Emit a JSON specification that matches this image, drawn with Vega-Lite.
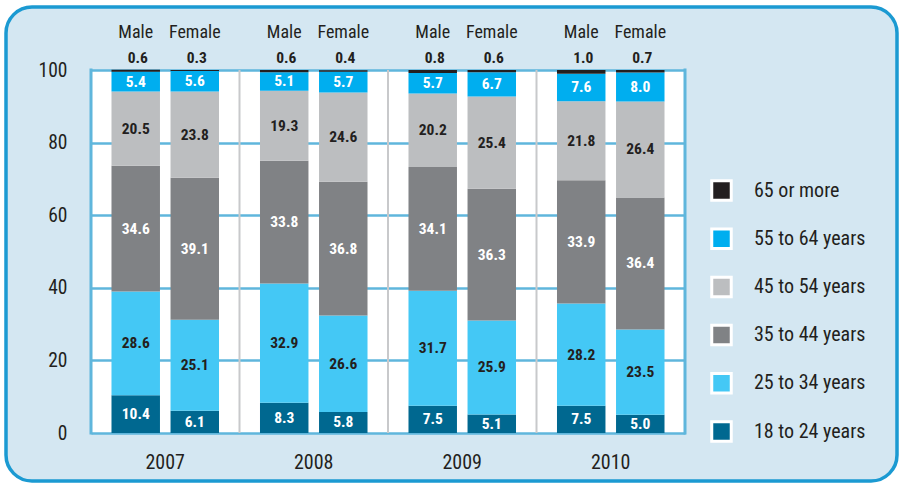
{
  "$schema": "https://vega.github.io/schema/vega-lite/v6.json",
  "width": 891,
  "height": 474,
  "autosize": {"type": "none"},
  "padding": {"left": 6, "top": 7, "right": 2, "bottom": 3},
  "background": "white",
  "config": {
    "font": "'Roboto Condensed', 'Liberation Sans Narrow', Roboto, sans-serif",
    "view": {"fill": "#d4e7f2", "stroke": "#1b9ad2", "strokeWidth": 3.5, "cornerRadius": 26}
  },
  "data": {
    "values": [
      {"year": "2007", "sex": "Male", "age": "18 to 24 years", "value": 10.4},
      {"year": "2007", "sex": "Male", "age": "25 to 34 years", "value": 28.6},
      {"year": "2007", "sex": "Male", "age": "35 to 44 years", "value": 34.6},
      {"year": "2007", "sex": "Male", "age": "45 to 54 years", "value": 20.5},
      {"year": "2007", "sex": "Male", "age": "55 to 64 years", "value": 5.4},
      {"year": "2007", "sex": "Male", "age": "65 or more", "value": 0.6},
      {"year": "2007", "sex": "Female", "age": "18 to 24 years", "value": 6.1},
      {"year": "2007", "sex": "Female", "age": "25 to 34 years", "value": 25.1},
      {"year": "2007", "sex": "Female", "age": "35 to 44 years", "value": 39.1},
      {"year": "2007", "sex": "Female", "age": "45 to 54 years", "value": 23.8},
      {"year": "2007", "sex": "Female", "age": "55 to 64 years", "value": 5.6},
      {"year": "2007", "sex": "Female", "age": "65 or more", "value": 0.3},
      {"year": "2008", "sex": "Male", "age": "18 to 24 years", "value": 8.3},
      {"year": "2008", "sex": "Male", "age": "25 to 34 years", "value": 32.9},
      {"year": "2008", "sex": "Male", "age": "35 to 44 years", "value": 33.8},
      {"year": "2008", "sex": "Male", "age": "45 to 54 years", "value": 19.3},
      {"year": "2008", "sex": "Male", "age": "55 to 64 years", "value": 5.1},
      {"year": "2008", "sex": "Male", "age": "65 or more", "value": 0.6},
      {"year": "2008", "sex": "Female", "age": "18 to 24 years", "value": 5.8},
      {"year": "2008", "sex": "Female", "age": "25 to 34 years", "value": 26.6},
      {"year": "2008", "sex": "Female", "age": "35 to 44 years", "value": 36.8},
      {"year": "2008", "sex": "Female", "age": "45 to 54 years", "value": 24.6},
      {"year": "2008", "sex": "Female", "age": "55 to 64 years", "value": 5.7},
      {"year": "2008", "sex": "Female", "age": "65 or more", "value": 0.4},
      {"year": "2009", "sex": "Male", "age": "18 to 24 years", "value": 7.5},
      {"year": "2009", "sex": "Male", "age": "25 to 34 years", "value": 31.7},
      {"year": "2009", "sex": "Male", "age": "35 to 44 years", "value": 34.1},
      {"year": "2009", "sex": "Male", "age": "45 to 54 years", "value": 20.2},
      {"year": "2009", "sex": "Male", "age": "55 to 64 years", "value": 5.7},
      {"year": "2009", "sex": "Male", "age": "65 or more", "value": 0.8},
      {"year": "2009", "sex": "Female", "age": "18 to 24 years", "value": 5.1},
      {"year": "2009", "sex": "Female", "age": "25 to 34 years", "value": 25.9},
      {"year": "2009", "sex": "Female", "age": "35 to 44 years", "value": 36.3},
      {"year": "2009", "sex": "Female", "age": "45 to 54 years", "value": 25.4},
      {"year": "2009", "sex": "Female", "age": "55 to 64 years", "value": 6.7},
      {"year": "2009", "sex": "Female", "age": "65 or more", "value": 0.6},
      {"year": "2010", "sex": "Male", "age": "18 to 24 years", "value": 7.5},
      {"year": "2010", "sex": "Male", "age": "25 to 34 years", "value": 28.2},
      {"year": "2010", "sex": "Male", "age": "35 to 44 years", "value": 33.9},
      {"year": "2010", "sex": "Male", "age": "45 to 54 years", "value": 21.8},
      {"year": "2010", "sex": "Male", "age": "55 to 64 years", "value": 7.6},
      {"year": "2010", "sex": "Male", "age": "65 or more", "value": 1.0},
      {"year": "2010", "sex": "Female", "age": "18 to 24 years", "value": 5.0},
      {"year": "2010", "sex": "Female", "age": "25 to 34 years", "value": 23.5},
      {"year": "2010", "sex": "Female", "age": "35 to 44 years", "value": 36.4},
      {"year": "2010", "sex": "Female", "age": "45 to 54 years", "value": 26.4},
      {"year": "2010", "sex": "Female", "age": "55 to 64 years", "value": 8.0},
      {"year": "2010", "sex": "Female", "age": "65 or more", "value": 0.7}
    ]
  },
  "transform": [
    {"stack": "value", "groupby": ["year", "sex"], "sort": [{"field": "age", "order": "ascending"}], "as": ["v0", "v1"]},
    {"calculate": "(datum.v0 + datum.v1) / 2", "as": "mid"}
  ],
  "layer": [
    {
      "mark": {"type": "bar"},
      "encoding": {
        "x": {
          "field": "year", "type": "nominal", "title": null,
          "scale": {"range": [85, 679], "paddingInner": 0, "paddingOuter": 0},
          "axis": {"orient": "top", "title": null, "labels": false, "ticks": false, "domain": false, "grid": true, "gridColor": "white", "gridWidth": 148.5, "gridOpacity": 1, "bandPosition": 0.5}
        },
        "xOffset": {
          "field": "sex", "type": "nominal",
          "scale": {"domain": ["Male", "Female"], "paddingInner": 0.179, "paddingOuter": 0.347}
        },
        "y": {
          "field": "v1", "type": "quantitative", "title": null,
          "scale": {"domain": [0, 100], "range": [426, 63], "nice": false, "zero": true},
          "axis": {"orient": "left", "offset": -85, "title": null, "values": [0, 20, 40, 60, 80, 100], "domain": false, "ticks": false, "labelPadding": 24, "labelFontSize": 19.5, "labelColor": "#231f20", "grid": true, "gridColor": "#5fb6dc", "gridWidth": 2.5, "gridOpacity": 1}
        },
        "y2": {"field": "v0"},
        "color": {
          "field": "age", "type": "nominal",
          "scale": {
            "domain": ["65 or more", "55 to 64 years", "45 to 54 years", "35 to 44 years", "25 to 34 years", "18 to 24 years"],
            "range": ["#231f20", "#00aeef", "#bcbec0", "#808285", "#44c8f5", "#006890"]
          },
          "legend": {
            "orient": "none", "legendX": 704, "legendY": 172, "title": null, "padding": 0,
            "symbolType": "square", "symbolSize": 380, "symbolStrokeColor": "white", "symbolStrokeWidth": 3, "symbolOpacity": 1,
            "labelFontSize": 20, "labelColor": "#231f20",
            "labelOffset": 21, "rowPadding": 15.2
          }
        }
      }
    },
    {
      "transform": [{"filter": "datum.age == '65 or more' && datum.sex == 'Male' && datum.year != '2007'"}],
      "mark": {"type": "rule", "color": "#c8c9cb", "strokeWidth": 2},
      "encoding": {
        "x": {"field": "year", "type": "nominal", "title": null, "bandPosition": 0},
        "y": {"datum": 0},
        "y2": {"datum": 100}
      }
    },
    {
      "transform": [{"filter": "datum.age == '65 or more' && datum.sex == 'Male' && datum.year == '2007'"}],
      "mark": {"type": "rule", "color": "#5fb6dc", "strokeWidth": 3},
      "encoding": {
        "x": {"field": "year", "type": "nominal", "title": null, "bandPosition": 0},
        "y": {"datum": -0.4},
        "y2": {"datum": 100.4}
      }
    },
    {
      "transform": [{"filter": "datum.age == '65 or more' && datum.sex == 'Male' && datum.year == '2010'"}],
      "mark": {"type": "rule", "color": "#5fb6dc", "strokeWidth": 3},
      "encoding": {
        "x": {"field": "year", "type": "nominal", "title": null, "bandPosition": 1},
        "y": {"datum": -0.4},
        "y2": {"datum": 100.4}
      }
    },
    {
      "transform": [{"filter": {"field": "age", "oneOf": ["18 to 24 years", "35 to 44 years", "55 to 64 years"]}}],
      "mark": {"type": "text", "fontSize": 15.5, "fontWeight": "bold", "color": "white", "baseline": "middle"},
      "encoding": {
        "x": {"field": "year", "type": "nominal", "title": null},
        "xOffset": {"field": "sex", "type": "nominal"},
        "y": {"field": "mid", "type": "quantitative", "title": null},
        "text": {"field": "value", "type": "quantitative", "format": ".1f"}
      }
    },
    {
      "transform": [{"filter": {"field": "age", "oneOf": ["25 to 34 years", "45 to 54 years"]}}],
      "mark": {"type": "text", "fontSize": 15.5, "fontWeight": "bold", "color": "#231f20", "baseline": "middle"},
      "encoding": {
        "x": {"field": "year", "type": "nominal", "title": null},
        "xOffset": {"field": "sex", "type": "nominal"},
        "y": {"field": "mid", "type": "quantitative", "title": null},
        "text": {"field": "value", "type": "quantitative", "format": ".1f"}
      }
    },
    {
      "transform": [{"filter": "datum.age == '65 or more'"}],
      "mark": {"type": "text", "fontSize": 15.5, "fontWeight": "bold", "color": "#231f20", "baseline": "middle", "dy": -12, "dx": 2},
      "encoding": {
        "x": {"field": "year", "type": "nominal", "title": null},
        "xOffset": {"field": "sex", "type": "nominal"},
        "y": {"datum": 100},
        "text": {"field": "value", "type": "quantitative", "format": ".1f"}
      }
    },
    {
      "transform": [{"filter": "datum.age == '65 or more'"}],
      "mark": {"type": "text", "fontSize": 18, "color": "#231f20", "baseline": "middle", "dy": -37},
      "encoding": {
        "x": {"field": "year", "type": "nominal", "title": null},
        "xOffset": {"field": "sex", "type": "nominal"},
        "y": {"datum": 100},
        "text": {"field": "sex", "type": "nominal"}
      }
    },
    {
      "transform": [{"filter": "datum.age == '65 or more' && datum.sex == 'Male'"}],
      "mark": {"type": "text", "fontSize": 20, "color": "#231f20", "baseline": "middle", "dy": 30},
      "encoding": {
        "x": {"field": "year", "type": "nominal", "title": null},
        "y": {"datum": 0},
        "text": {"field": "year", "type": "nominal"}
      }
    }
  ]
}
